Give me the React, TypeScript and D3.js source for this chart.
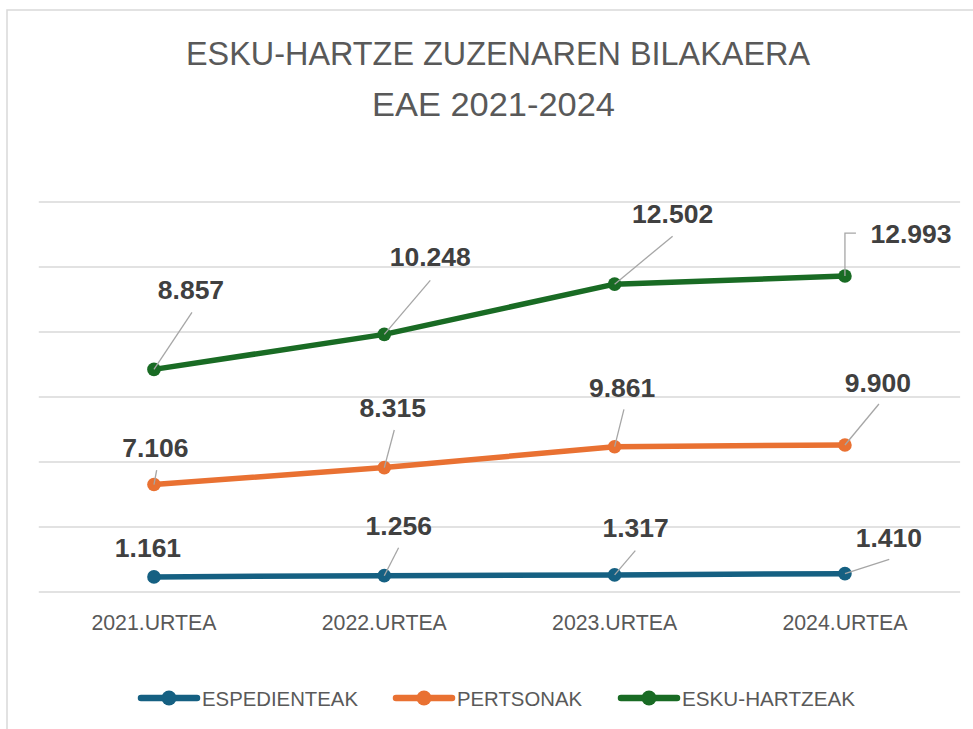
import React from "react";
import * as d3 from "d3";

const years = ["2021.URTEA", "2022.URTEA", "2023.URTEA", "2024.URTEA"];
const espedienteak = [1161, 1256, 1317, 1410];
const pertsonak = [7106, 8315, 9861, 9900];
const eskuHartzeak = [8857, 10248, 12502, 12993];
const seriesNames = ["ESPEDIENTEAK", "PERTSONAK", "ESKU-HARTZEAK"];
const titleLines = ["ESKU-HARTZE ZUZENAREN BILAKAERA", "EAE 2021-2024"];
const yMax = 30000;
const yStep = 5000;

// styling
const colors = ["#156082", "#E97132", "#196B24"];
// label placement (text offset dx,dy from point; leader end offset; elbow flag)
const labelLayout = [
  [
    { dx: -6, dy: -20, lx: 0, ly: 0, elbow: false, leader: false },
    { dx: 14.5, dy: -40.7, lx: 14.3, ly: -28, elbow: false, leader: true },
    { dx: 21, dy: -37.6, lx: 20.7, ly: -24.2, elbow: false, leader: true },
    { dx: 44, dy: -27, lx: 44.3, ly: -14.4, elbow: false, leader: true },
  ],
  [
    { dx: 1.4, dy: -28, lx: 2.7, ly: -14.5, elbow: false, leader: true },
    { dx: 8.5, dy: -51, lx: 10, ly: -37.6, elbow: false, leader: true },
    { dx: 7.5, dy: -50, lx: 9.3, ly: -37.4, elbow: false, leader: true },
    { dx: 33, dy: -53, lx: 34, ly: -41, elbow: false, leader: true },
  ],
  [
    { dx: 37, dy: -70, lx: 38, ly: -57, elbow: false, leader: true },
    { dx: 46, dy: -68, lx: 46, ly: -54, elbow: false, leader: true },
    { dx: 58, dy: -61, lx: 58, ly: -48, elbow: false, leader: true },
    { dx: 66, dy: -33, lx: 11, ly: -43, elbow: true, leader: true },
  ],
];
const legendLayout = [
  { x: 141, textW: 156 },
  { x: 396, textW: 125 },
  { x: 621, textW: 173 },
];

const W = 973;
const H = 729;
const narrow = "'Liberation Sans Narrow', 'Arial Narrow', 'Liberation Sans', Arial, sans-serif";
const sans = "'Liberation Sans', Arial, Helvetica, sans-serif";

const locale = d3.formatLocale({ decimal: ",", thousands: ".", grouping: [3], currency: ["", "€"] });
const fmt = locale.format(",d");

export default function App() {
  const x = d3.scaleBand<string>().domain(years).range([38.8, 960.1]);
  const cx = (d: string) => (x(d) as number) + x.bandwidth() / 2;
  const y = d3.scaleLinear().domain([0, yMax]).range([592, 202]);
  const ticks = d3.range(0, yMax + 1, yStep);

  const table = years.map((yr, i) => ({
    year: yr,
    ESPEDIENTEAK: espedienteak[i],
    PERTSONAK: pertsonak[i],
    "ESKU-HARTZEAK": eskuHartzeak[i],
  }));
  const stacked = d3.stack<any>().keys(seriesNames)(table);
  const raw = [espedienteak, pertsonak, eskuHartzeak];

  const line = d3
    .line<any>()
    .x((d) => cx(d.data.year))
    .y((d) => y(d[1]));

  return (
    <svg
      width={W}
      height={H}
      style={{ position: "absolute", left: 0, top: 0, background: "#fff" }}
    >
      <rect x={7} y={10} width={W + 20} height={H + 20} fill="#fff" stroke="#d9d9d9" strokeWidth={1.5} />
      {titleLines.map((t, i) => (
        <text
          key={t}
          x={i === 0 ? 498 : 493.5}
          y={i === 0 ? 65 : 116}
          textAnchor="middle"
          fontFamily={narrow}
          fontSize={33}
          fill="#595959"
          textLength={i === 0 ? 624 : 243}
          lengthAdjust="spacingAndGlyphs"
        >
          {t}
        </text>
      ))}
      {ticks.map((t) => (
        <line key={t} x1={38.8} x2={960.1} y1={y(t)} y2={y(t)} stroke="#d9d9d9" strokeWidth={1.5} />
      ))}
      {years.map((yr) => (
        <text key={yr} x={cx(yr)} y={630} textAnchor="middle" fontFamily={sans} fontSize={21.3} fill="#595959">
          {yr}
        </text>
      ))}
      {stacked.map((s, si) => (
        <g key={s.key}>
          <path d={line(s as any) as string} fill="none" stroke={colors[si]} strokeWidth={5.5} strokeLinejoin="round" />
          {s.map((p: any, pi: number) => (
            <circle key={pi} cx={cx(p.data.year)} cy={y(p[1])} r={6.8} fill={colors[si]} />
          ))}
        </g>
      ))}
      {stacked.map((s, si) =>
        s.map((p: any, pi: number) => {
          const px = cx(p.data.year);
          const py = y(p[1]);
          const L = labelLayout[si][pi];
          return (
            <g key={`${si}-${pi}`}>
              {L.leader &&
                (L.elbow ? (
                  <polyline
                    points={`${px},${py} ${px},${py + L.ly} ${px + L.lx},${py + L.ly}`}
                    fill="none"
                    stroke="#a6a6a6"
                    strokeWidth={1.3}
                  />
                ) : (
                  <line x1={px} y1={py} x2={px + L.lx} y2={py + L.ly} stroke="#a6a6a6" strokeWidth={1.3} />
                ))}
              <text
                x={px + L.dx}
                y={py + L.dy}
                textAnchor="middle"
                fontFamily={sans}
                fontWeight="bold"
                fontSize={26.5}
                fill="#404040"
              >
                {fmt(raw[si][pi])}
              </text>
            </g>
          );
        })
      )}
      {seriesNames.map((n, i) => {
        const lg = legendLayout[i];
        return (
          <g key={n}>
            <line x1={lg.x} x2={lg.x + 56} y1={698} y2={698} stroke={colors[i]} strokeWidth={6.5} strokeLinecap="round" />
            <circle cx={lg.x + 28} cy={698} r={7.5} fill={colors[i]} />
            <text
              x={lg.x + 61}
              y={706}
              fontFamily={narrow}
              fontSize={20.5}
              fill="#595959"
              textLength={lg.textW}
              lengthAdjust="spacingAndGlyphs"
            >
              {n}
            </text>
          </g>
        );
      })}
    </svg>
  );
}
